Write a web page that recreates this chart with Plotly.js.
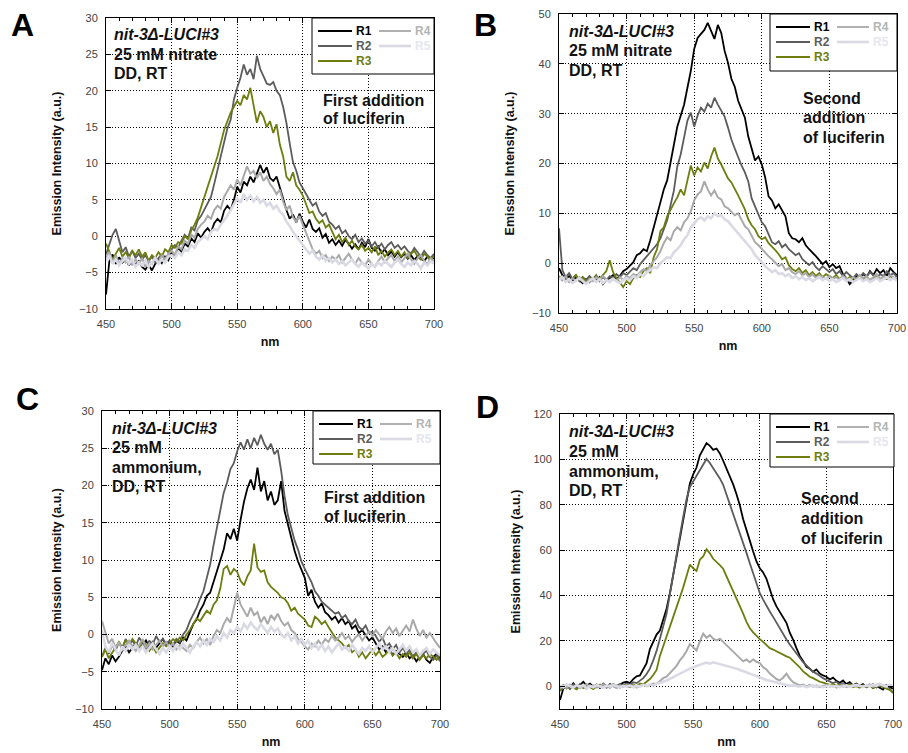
<!DOCTYPE html>
<html>
<head>
<meta charset="utf-8">
<script src="https://cdn.plot.ly/plotly-3.0.1.min.js"></script>
<style>html,body{margin:0;padding:0;background:#fff;}#chart{width:908px;height:753px;}</style>
</head>
<body>
<div id="chart"></div>
<script>
// ---------------- DATA ----------------
const wavelength = [450,452.5,455,457.5,460,462.5,465,467.5,470,472.5,475,477.5,480,482.5,485,487.5,490,492.5,495,497.5,500,502.5,505,507.5,510,512.5,515,517.5,520,522.5,525,527.5,530,532.5,535,537.5,540,542.5,545,547.5,550,552.5,555,557.5,560,562.5,565,567.5,570,572.5,575,577.5,580,582.5,585,587.5,590,592.5,595,597.5,600,602.5,605,607.5,610,612.5,615,617.5,620,622.5,625,627.5,630,632.5,635,637.5,640,642.5,645,647.5,650,652.5,655,657.5,660,662.5,665,667.5,670,672.5,675,677.5,680,682.5,685,687.5,690,692.5,695,697.5,700];

const seriesNames = ['R1','R2','R3','R4','R5'];

// Panel A: 25 mM nitrate, first addition
const a_r1 = [-8,-3.5,-2.5,-3.8,-2.9,-3.6,-3.1,-4.0,-3.3,-3.9,
 -3.4,-4.2,-4.6,-3.9,-4.7,-3.8,-3.2,-3.7,-2.8,-3.3,
 -2.2,-2.8,-1.6,-2.1,-1.0,-1.4,-0.3,-0.8,0.4,-0.2,
 0.6,1.1,0.5,1.8,2.4,1.9,3.5,4.2,3.6,5.0,
 6.8,6.0,7.5,7.0,8.2,7.4,8.6,9.8,8.7,9.5,
 8.0,7.6,8.2,6.8,5.2,3.6,2.4,3.0,1.9,3.1,
 2.0,1.2,2.3,1.0,0.6,1.1,-0.2,0.3,-0.9,-0.4,
 -1.2,-0.6,-1.3,-0.5,-1.0,-1.7,-1.1,-1.8,-0.9,-1.5,
 -0.4,-1.6,-2.0,-1.4,-2.3,-1.8,-2.6,-2.1,-2.8,-2.2,
 -2.9,-2.4,-3.1,-2.6,-3.3,-2.7,-3.0,-3.4,-2.8,-3.2,-3.0];
const a_r2 = [-2.5,-1.0,0.2,1.0,-0.8,-2.2,-1.5,-2.8,-2.0,-3.0,
 -2.4,-3.2,-2.6,-3.4,-2.8,-3.6,-3.0,-2.5,-3.2,-2.4,
 -1.8,-1.2,-1.6,-0.6,0.2,-0.3,1.2,0.8,2.2,2.8,
 3.6,4.6,5.4,7.2,9.0,10.8,12.6,14.8,16.0,18.8,
 20.4,21.8,23.6,22.2,23.0,21.6,24.8,23.0,22.0,21.0,
 20.8,21.2,20.0,19.4,17.8,15.6,12.8,10.2,9.0,7.4,
 6.6,5.8,4.8,4.2,4.6,3.4,2.8,3.2,2.0,1.6,
 1.0,1.4,0.4,0.8,0.0,-0.4,0.2,-0.8,-0.3,-1.0,
 -0.6,-1.4,-0.8,-1.6,-1.0,-1.8,-1.2,-0.8,-1.6,-1.2,
 -1.8,-1.4,-2.0,-2.4,-1.6,-2.2,-2.8,-2.0,-2.6,-3.0,-2.4];
const a_r3 = [-1.0,-2.0,-3.2,-2.4,-1.6,-2.8,-2.2,-3.0,-2.0,-2.6,
 -1.8,-2.8,-2.2,-3.4,-2.6,-3.0,-2.2,-2.8,-1.8,-2.2,
 -1.2,-1.6,-0.8,-1.0,0.0,-0.4,0.8,1.6,2.6,4.0,
 5.4,6.6,8.2,9.4,11.0,12.8,14.6,15.8,17.0,17.8,
 18.6,18.0,19.4,18.8,20.4,18.0,15.6,17.2,16.4,15.0,
 15.8,14.2,15.4,12.6,11.0,8.2,7.6,8.8,7.0,6.4,
 5.6,4.4,3.2,3.4,2.4,1.8,2.2,1.2,1.6,0.6,
 -0.4,0.2,-0.8,-0.2,-1.2,-0.6,-1.4,-1.8,-1.2,-2.0,
 -1.6,-2.2,-1.4,-2.6,-2.0,-2.8,-2.2,-1.8,-2.6,-2.0,
 -2.8,-2.2,-3.0,-2.4,-2.0,-2.8,-3.2,-2.4,-2.8,-3.4,-2.6];
const a_r4 = [-3.0,-2.2,-3.6,-2.6,-3.8,-3.0,-3.6,-2.8,-4.0,-3.2,
 -3.8,-3.0,-4.2,-3.4,-3.8,-2.8,-3.6,-2.6,-3.2,-2.4,
 -2.0,-2.6,-1.4,-1.8,-0.6,-1.0,0.2,-0.2,1.0,1.6,
 2.0,2.8,2.4,3.6,4.2,3.8,5.4,6.2,7.0,6.4,
 7.8,7.0,8.4,9.6,8.6,9.0,8.0,8.8,7.6,8.2,
 7.2,6.6,5.8,6.4,4.8,3.6,4.2,2.6,2.0,2.8,
 1.6,0.4,-0.8,-1.8,-2.4,-2.0,-3.0,-2.6,-3.4,-2.8,
 -3.2,-2.6,-3.6,-3.0,-2.4,-3.2,-3.8,-3.0,-3.6,-4.0,
 -3.2,-3.8,-4.2,-3.4,-2.8,-3.6,-3.0,-2.6,-3.4,-2.8,
 -3.6,-3.0,-2.4,-3.2,-3.8,-3.0,-2.6,-3.4,-3.8,-3.0,-3.4];
const a_r5 = [-3.4,-2.6,-3.8,-3.2,-4.0,-3.4,-3.0,-3.8,-3.2,-4.2,
 -3.6,-4.0,-3.4,-4.2,-3.6,-3.0,-3.8,-3.2,-3.6,-2.8,
 -2.6,-3.0,-2.2,-2.6,-1.8,-2.0,-1.2,-1.6,-0.8,-0.4,
 0.0,-0.4,0.6,1.0,0.8,1.6,2.2,2.8,3.6,4.4,
 5.2,4.6,5.8,5.0,5.6,4.8,5.4,4.6,5.0,4.2,
 4.6,3.8,4.2,3.4,3.0,2.0,1.4,0.6,0.0,-0.6,
 -1.2,-1.8,-2.4,-2.0,-2.8,-3.2,-2.6,-3.4,-3.0,-3.6,
 -3.2,-3.8,-3.4,-4.0,-3.6,-3.2,-3.8,-4.2,-3.6,-4.0,
 -4.4,-3.8,-4.2,-3.6,-4.0,-3.4,-3.8,-4.2,-3.6,-3.2,
 -3.8,-4.2,-3.6,-4.0,-3.4,-3.8,-4.4,-3.6,-4.0,-3.4,-3.8];

// Panel B: 25 mM nitrate, second addition
const b_r1 = [-1.0,-2.4,-3.2,-2.6,-3.6,-2.8,-3.4,-4.0,-3.2,-3.8,
 -3.0,-3.6,-2.8,-4.2,-3.4,-3.0,-2.4,-3.2,-2.6,-1.6,
 -1.2,-0.4,0.2,1.6,2.0,2.8,2.4,4.6,7.0,9.6,
 12.2,14.8,16.6,20.2,23.8,27.4,29.6,31.8,35.2,38.6,
 43.0,45.2,46.0,46.8,48.2,46.6,45.0,47.8,46.2,42.6,
 40.2,37.0,35.4,32.6,30.8,29.2,25.4,22.8,20.6,21.4,
 19.8,17.2,13.4,12.6,11.0,11.8,10.6,9.4,6.0,5.0,
 4.8,4.2,5.0,3.6,2.8,2.2,1.4,0.6,-0.2,0.4,
 -0.8,-0.2,-1.0,-0.6,-2.2,-3.0,-4.2,-3.4,-2.6,-3.0,
 -2.2,-2.8,-1.6,-2.4,-1.2,-2.0,-1.4,-2.6,-1.0,-1.8,-2.4];
const b_r2 = [7.0,-1.4,-2.8,-2.0,-3.2,-2.4,-3.6,-2.8,-3.4,-2.6,
 -3.2,-2.4,-3.6,-2.8,-3.4,-2.6,-3.0,-2.2,-2.8,-2.0,
 -2.4,-1.6,-1.0,-1.4,-0.2,0.6,1.4,2.2,3.0,3.8,
 5.0,6.8,8.6,11.6,14.6,19.4,21.8,25.2,28.6,30.2,
 27.4,29.6,31.2,30.4,32.0,31.2,33.2,31.8,30.6,29.4,
 27.2,24.8,23.0,21.2,19.6,18.2,16.4,13.0,11.4,9.6,
 8.2,7.4,5.6,4.2,3.8,4.4,3.2,3.8,2.8,2.2,
 1.6,2.0,0.8,0.2,-0.4,0.2,-0.8,-1.4,-0.6,-1.2,
 -1.8,-1.2,-2.2,-1.6,-2.6,-1.8,-2.4,-3.0,-2.2,-2.8,
 -2.0,-2.6,-1.8,-2.4,-3.0,-2.2,-2.6,-1.6,-2.4,-2.0,-2.8];
const b_r3 = [-2.6,-3.4,-2.8,-3.6,-3.0,-2.4,-3.4,-2.8,-3.8,-3.0,
 -3.4,-2.6,-3.2,-2.4,-1.6,0.6,-1.8,-3.0,-4.0,-4.8,
 -3.6,-4.2,-3.0,-2.4,-2.8,-1.6,-1.0,-2.0,1.2,2.8,
 6.4,7.2,9.4,10.8,12.0,13.2,14.8,13.6,16.6,19.6,
 17.6,19.2,18.4,20.2,19.0,21.4,23.2,21.0,19.8,18.4,
 17.0,16.2,15.0,13.6,12.2,10.8,8.8,7.6,6.8,5.4,
 4.8,5.2,4.0,3.4,2.6,1.8,0.8,1.2,-0.4,-1.2,
 -1.6,-1.0,-2.0,-1.4,-2.4,-1.8,-2.6,-2.0,-2.8,-2.2,
 -2.6,-3.0,-2.4,-3.2,-2.6,-3.4,-2.8,-3.6,-3.0,-2.6,
 -3.2,-2.8,-3.6,-3.0,-2.4,-3.4,-2.8,-3.2,-2.6,-3.0,-3.4];
const b_r4 = [-2.8,-3.4,-2.6,-3.8,-3.0,-3.6,-2.8,-3.4,-4.0,-3.2,
 -3.6,-2.8,-3.4,-2.6,-3.2,-3.8,-3.0,-3.6,-2.8,-3.4,
 -2.6,-3.0,-2.2,-2.6,-1.8,-1.2,-1.6,-0.4,0.4,1.2,
 2.4,4.0,5.2,4.6,6.4,7.2,6.6,8.2,9.0,10.4,
 12.6,13.8,14.4,16.4,14.8,13.6,14.6,13.2,12.8,11.4,
 11.0,10.2,9.6,10.0,8.8,7.4,6.8,5.4,4.2,3.6,
 2.8,2.2,1.4,0.8,0.2,-0.6,-0.2,-1.4,-1.0,-1.8,
 -2.2,-1.6,-2.4,-2.0,-2.8,-2.2,-3.0,-2.4,-2.8,-3.2,
 -2.6,-3.2,-2.8,-3.4,-2.6,-3.0,-3.6,-2.8,-3.2,-2.4,
 -3.0,-2.6,-3.4,-2.8,-2.2,-3.2,-2.6,-3.0,-2.4,-2.8,-3.2];
const b_r5 = [-3.4,-2.8,-3.8,-3.2,-4.0,-3.4,-3.0,-3.6,-4.2,-3.6,
 -3.0,-3.8,-3.2,-4.0,-3.4,-3.8,-3.2,-3.6,-4.0,-3.4,
 -3.0,-3.4,-2.6,-3.0,-2.2,-2.6,-1.8,-1.4,-0.8,-1.0,
 0.0,0.6,1.2,1.0,2.2,2.8,3.6,4.8,5.6,7.2,
 8.0,8.8,9.2,8.6,9.4,9.0,10.0,9.4,9.6,8.8,
 8.4,7.6,7.0,6.2,5.4,4.6,3.6,2.8,1.6,1.0,
 0.2,-0.6,-1.2,-1.8,-1.4,-2.2,-2.0,-2.6,-2.2,-3.0,
 -2.6,-3.2,-2.8,-3.4,-3.0,-3.6,-3.2,-2.8,-3.4,-3.0,
 -3.6,-3.2,-3.8,-3.4,-3.0,-3.6,-3.2,-3.8,-3.4,-3.0,
 -3.6,-3.2,-3.8,-3.4,-3.0,-3.6,-3.2,-2.8,-3.4,-3.0,-3.6];

// Panel C: 25 mM ammonium, first addition
const c_r1 = [-4.8,-3.2,-4.0,-2.8,-3.6,-3.0,-2.2,-1.6,-2.4,-1.8,
 -1.2,-2.0,-1.4,-0.8,-1.6,-1.0,-1.8,-1.2,-0.6,-1.4,
 -1.0,-1.6,-0.8,-1.2,-0.4,-0.8,0.4,1.4,2.0,3.2,
 4.0,5.2,5.6,7.0,8.4,9.8,11.4,13.6,12.8,14.2,
 12.6,15.4,17.8,19.6,20.8,19.4,22.4,19.2,20.6,18.0,
 19.2,17.4,18.0,20.6,16.6,14.8,12.8,11.2,9.8,8.6,
 7.6,5.2,6.0,4.4,3.6,4.2,3.0,2.6,2.0,2.4,
 1.6,2.2,1.4,1.8,0.8,1.2,0.2,0.6,-0.2,-0.8,
 -0.4,-1.2,-2.0,-1.6,-2.4,-1.8,-2.8,-2.2,-2.6,-3.0,
 -2.4,-3.2,-2.8,-3.6,-3.0,-2.6,-3.4,-3.8,-3.0,-2.6,-3.2];
const c_r2 = [-3.0,-1.8,-2.6,-1.4,-2.2,-1.0,-1.8,-0.6,-1.4,-0.8,
 -1.6,-0.4,-1.2,-2.0,-0.8,-1.4,-0.2,-1.0,-0.6,-1.2,
 -0.8,-1.4,-0.6,-1.0,0.0,0.6,1.8,2.6,3.6,4.8,
 5.8,7.6,9.4,12.0,14.2,16.8,19.0,20.4,22.2,23.0,
 24.6,25.8,24.8,26.2,25.0,26.4,25.4,26.8,25.6,24.8,
 25.6,24.2,24.8,22.0,18.6,16.0,14.2,12.6,11.4,9.8,
 8.8,8.0,7.0,5.8,5.2,4.4,4.0,3.6,3.2,2.8,
 3.0,2.2,2.6,1.8,1.4,2.0,1.0,0.6,1.2,0.2,
 0.4,-0.2,-1.0,-0.4,-1.6,-1.2,-2.0,-1.4,-2.4,-1.8,
 -2.6,-2.0,-3.0,-2.4,-3.2,-2.6,-2.2,-3.0,-3.4,-2.8,-3.6];
const c_r3 = [-3.0,-2.0,-3.2,-2.4,-1.6,-1.0,-1.8,-0.8,-1.4,-0.6,
 -1.2,-1.8,-0.8,-1.4,-2.2,-1.6,-2.4,-1.8,-1.2,-1.6,
 -1.2,-0.6,-1.0,-0.4,-0.8,0.0,0.6,1.4,2.2,1.8,
 2.6,3.2,2.8,4.0,4.6,6.2,8.8,9.2,8.0,8.8,
 8.4,7.2,6.6,7.8,8.6,12.2,9.0,8.4,8.6,7.0,
 6.4,6.0,5.6,5.0,4.8,4.2,3.2,3.6,2.8,2.4,
 2.0,1.2,1.0,2.4,2.0,1.4,1.8,1.0,0.2,-0.4,
 -0.8,-1.2,-1.8,-1.4,-2.4,-2.0,-3.0,-2.4,-3.2,-2.6,
 -2.0,-2.8,-2.2,-3.0,-2.6,-2.0,-2.8,-2.4,-3.2,-2.6,
 -3.0,-2.4,-3.2,-2.6,-3.4,-2.8,-3.2,-2.6,-3.0,-3.4,-2.8];
const c_r4 = [1.8,0.4,-1.2,-0.6,-1.8,-1.0,-2.2,-1.4,-0.8,-1.6,
 -2.2,-1.4,-0.6,-1.8,-1.2,-2.0,-1.4,-0.8,-1.6,-1.0,
 -1.8,-1.2,-2.0,-1.4,-1.8,-2.2,-1.4,-1.8,-1.0,-0.4,
 -1.2,-0.6,-1.4,-0.2,0.6,0.2,1.4,2.2,1.6,3.4,
 5.6,4.0,3.2,2.4,3.6,2.6,3.0,1.6,2.4,1.4,
 2.6,2.0,2.8,1.8,1.2,1.6,0.6,0.2,-0.6,-1.0,
 -1.6,-2.0,-1.2,-1.6,-0.8,-1.4,-0.6,-1.0,-0.2,-0.8,
 -0.4,0.2,-0.6,-0.2,-1.0,-0.4,0.0,-0.8,-0.2,0.4,
 -0.2,0.6,0.0,-0.6,0.4,1.0,0.2,0.8,-0.2,0.6,
 1.2,0.4,2.0,0.8,-0.2,0.6,-0.4,0.2,-0.6,-1.2,-1.8];
const c_r5 = [0.6,-1.6,-2.4,-1.2,-2.0,-2.8,-1.6,-2.2,-1.4,-2.0,
 -1.4,-2.2,-1.6,-2.4,-1.8,-1.2,-2.0,-2.6,-1.8,-2.4,
 -1.6,-2.2,-1.4,-2.0,-1.2,-1.8,-2.4,-1.6,-1.0,-1.6,
 -0.8,-1.4,-0.6,-1.0,-0.2,-0.8,0.2,-0.4,0.6,0.2,
 1.0,0.4,1.4,0.8,1.6,1.0,0.6,1.4,0.8,0.2,
 1.0,0.4,0.8,0.0,-0.4,0.2,-0.8,-0.2,-1.2,-0.6,
 -1.4,-0.8,-1.8,-1.2,-2.0,-1.4,-2.2,-1.6,-2.4,-1.8,
 -1.2,-2.0,-1.6,-2.2,-1.4,-2.0,-2.6,-1.8,-2.2,-1.6,
 -2.4,-1.8,-1.2,-2.0,-1.6,-2.4,-1.8,-2.6,-2.0,-1.4,
 -2.2,-1.6,-2.4,-2.0,-2.8,-2.2,-1.8,-2.6,-2.0,-2.4,-2.8];

// Panel D: 25 mM ammonium, second addition
const d_r1 = [-6.0,-1.0,0.8,-0.6,1.4,-0.4,0.6,2.0,0.2,1.2,
 -0.2,0.8,-0.8,0.4,-0.6,1.0,0.2,-0.4,0.8,1.6,
 2.0,1.4,3.2,4.4,4.8,7.6,10.2,16.4,19.6,22.8,
 24.6,29.4,34.2,41.0,49.2,57.6,65.0,73.8,81.6,89.4,
 93.4,96.4,101.8,104.6,107.2,106.0,104.2,104.8,102.6,99.4,
 96.0,92.6,89.0,84.6,79.8,73.6,69.4,64.2,59.4,55.0,
 52.0,50.2,47.4,42.6,38.4,35.2,32.6,30.4,28.0,23.6,
 20.6,16.8,13.4,11.2,8.6,7.8,6.4,7.4,5.6,4.8,
 4.2,3.0,3.8,2.4,1.6,2.6,1.0,1.8,0.4,1.2,
 0.2,1.0,-0.4,0.6,-0.8,0.2,-0.6,-1.4,0.4,-0.2,-1.0];
const d_r2 = [-2.0,-0.6,0.4,-1.2,0.8,-0.8,1.0,-0.2,-1.0,0.6,
 -0.8,0.4,-0.4,1.2,0.0,-0.6,0.8,0.2,1.0,0.4,
 1.2,0.6,1.8,1.4,2.6,3.6,5.4,7.8,11.4,15.6,
 21.0,26.4,32.0,40.6,49.8,58.8,66.4,74.6,82.4,87.8,
 90.2,93.0,95.4,97.6,100.2,98.4,96.2,94.0,91.6,88.8,
 84.6,80.4,76.2,72.0,67.4,63.0,58.8,54.2,49.6,45.4,
 41.0,38.2,35.4,33.0,30.6,28.0,25.4,22.8,20.6,18.4,
 16.4,14.2,12.4,10.6,9.2,7.8,6.4,5.6,4.4,3.6,
 2.8,2.2,1.4,2.0,0.8,1.4,0.4,1.0,0.2,0.8,
 -0.2,0.6,-0.4,0.2,1.0,-0.6,0.4,-0.2,0.6,-1.0,-3.0];
const d_r3 = [-2.0,0.6,-1.0,0.4,-0.6,-1.4,0.2,-0.8,0.6,-0.4,
 -1.2,0.0,0.8,-0.6,0.4,-0.2,1.0,0.2,-0.6,0.6,
 0.2,-0.4,0.8,0.0,1.2,0.8,2.0,3.2,5.0,7.2,
 13.4,17.6,22.2,26.4,30.8,34.0,39.2,43.6,48.4,53.6,
 52.0,50.8,55.8,57.2,60.4,58.6,56.2,55.0,53.4,51.8,
 48.6,45.0,42.2,38.4,35.8,32.0,28.4,25.6,23.8,22.2,
 20.8,19.6,18.0,16.8,16.2,15.4,14.8,14.0,13.2,12.6,
 11.4,9.8,8.4,6.6,5.4,4.2,3.6,2.8,2.0,1.6,
 1.2,0.6,1.0,0.2,0.8,-0.2,0.4,0.8,-0.4,0.2,
 -0.6,0.4,-0.2,0.6,-0.8,0.0,0.4,-0.4,-1.0,-1.6,-2.6];
const d_r4 = [-1.0,0.4,-0.6,0.8,-0.2,0.6,-0.8,0.2,1.0,-0.4,
 0.4,-0.6,0.2,0.8,-0.4,0.6,0.0,-0.8,0.4,-0.2,
 0.6,-0.2,0.4,-0.6,0.2,0.8,0.0,0.6,1.2,1.0,
 2.2,3.6,4.2,5.8,7.6,9.0,11.4,13.2,15.6,18.6,
 17.2,15.8,19.8,23.2,21.4,22.6,21.0,20.2,21.0,19.6,
 18.2,16.4,15.0,13.6,12.2,11.0,11.8,10.6,11.8,10.8,
 10.2,8.4,7.4,5.6,4.4,3.2,2.6,3.8,5.6,3.4,
 1.8,1.0,0.4,0.8,0.0,0.6,-0.2,0.4,-0.4,0.2,
 0.6,-0.2,0.4,-0.6,0.2,0.8,-0.4,0.2,0.6,-0.2,
 0.4,-0.4,0.2,0.8,-0.2,0.4,1.2,0.2,-0.4,0.6,0.0];
const d_r5 = [0.4,-0.4,0.8,0.0,-0.6,0.6,-0.2,0.4,-0.8,0.2,
 -0.4,0.6,0.0,-0.6,0.4,-0.2,0.6,0.0,-0.4,0.2,
 -0.2,0.4,-0.4,0.2,0.0,0.6,0.2,0.8,0.4,1.0,
 1.4,2.0,2.6,3.2,4.0,4.8,5.6,6.4,7.2,7.8,
 8.4,9.0,9.6,10.0,10.4,10.0,10.6,10.2,9.8,9.6,
 9.2,8.8,8.2,7.8,7.2,6.8,6.2,5.6,5.0,4.6,
 4.0,3.4,2.8,2.4,2.0,1.6,1.2,0.8,0.6,0.2,
 0.4,0.0,-0.2,0.2,-0.4,0.0,0.4,-0.2,0.2,-0.4,
 0.0,0.4,-0.2,0.2,-0.4,0.0,0.4,-0.2,0.2,0.6,
 0.2,-0.2,0.4,0.0,0.6,0.2,1.0,0.4,0.0,0.6,0.2];

// ---------------- STYLE ----------------
const FONT = 'Liberation Sans, Arial, Helvetica, sans-serif';
const seriesColors = ['#000000', '#5c5c5c', '#6f7d0e', '#a9a9a9', '#dadae4'];
const labelColors  = ['#000000', '#5c5c5c', '#6f7d0e', '#b4b4b4', '#e6e6ee'];
const seriesWidths = [1.8, 1.8, 1.8, 2.0, 2.6];

const X = p => p / 908;
const Y = p => 1 - p / 753;

const panels = [
  {data: [a_r1, a_r2, a_r3, a_r4, a_r5], box: [106, 434, 18, 309], yrange: [-10, 30], ydtick: 5, ytick0: -10, ystand: 14,
   letter: 'A', letterPos: [22.5, 25], legend: [312, 18, 434, 74],
   info: {x: 112, y: [35, 54, 73], lines: ['<b><i>nit-3Δ-LUCI#3</i></b>', '<b>25 mM nitrate</b>', '<b>DD, RT</b>']},
   note: {x: 321, y: [100, 119], lines: ['<b>First addition</b>', '<b>of luciferin</b>']}},
  {data: [b_r1, b_r2, b_r3, b_r4, b_r5], box: [559, 897, 14, 313], yrange: [-10, 50], ydtick: 10, ytick0: -10, ystand: 14,
   letter: 'B', letterPos: [485, 25.5], legend: [770, 14, 897, 71],
   info: {x: 567, y: [32, 50.5, 70], lines: ['<b><i>nit-3Δ-LUCI#3</i></b>', '<b>25 mM nitrate</b>', '<b>DD, RT</b>']},
   note: {x: 801, y: [98, 118, 137], lines: ['<b>Second</b>', '<b>addition</b>', '<b>of luciferin</b>']}},
  {data: [c_r1, c_r2, c_r3, c_r4, c_r5], box: [102, 440, 411, 709], yrange: [-10, 30], ydtick: 5, ytick0: -10, ystand: 10,
   letter: 'C', letterPos: [27, 398.5], legend: [313, 411, 440, 464],
   info: {x: 110, y: [428, 447.5, 467, 486], lines: ['<b><i>nit-3Δ-LUCI#3</i></b>', '<b>25 mM</b>', '<b>ammonium,</b>', '<b>DD, RT</b>']},
   note: {x: 322, y: [497, 516], lines: ['<b>First addition</b>', '<b>of luciferin</b>']}},
  {data: [d_r1, d_r2, d_r3, d_r4, d_r5], box: [560, 893, 414, 709], yrange: [-10, 120], ydtick: 20, ytick0: 0, ystand: 10,
   letter: 'D', letterPos: [487, 407], legend: [770, 414, 894, 467],
   info: {x: 567, y: [431, 451, 471, 490], lines: ['<b><i>nit-3Δ-LUCI#3</i></b>', '<b>25 mM</b>', '<b>ammonium,</b>', '<b>DD, RT</b>']},
   note: {x: 799, y: [498, 518, 538], lines: ['<b>Second</b>', '<b>addition</b>', '<b>of luciferin</b>']}}
];

const traces = [];
const shapes = [];
const annotations = [];
const layout = {
  width: 908, height: 753,
  margin: {l: 0, r: 0, t: 0, b: 0},
  paper_bgcolor: '#ffffff', plot_bgcolor: '#ffffff',
  font: {family: FONT, color: '#000'},
  showlegend: false,
  shapes: shapes, annotations: annotations
};

panels.forEach((p, k) => {
  const ax = k === 0 ? '' : String(k + 1);
  p.data.forEach((ys, j) => {
    traces.push({
      type: 'scatter', mode: 'lines', x: wavelength, y: ys,
      xaxis: 'x' + ax, yaxis: 'y' + ax, name: seriesNames[j],
      line: {color: seriesColors[j], width: seriesWidths[j]},
      showlegend: false, hoverinfo: 'skip'
    });
  });
  const common = {
    showline: true, linecolor: '#000', linewidth: 1, mirror: 'allticks',
    ticks: 'inside', ticklen: 5, tickcolor: '#000', tickwidth: 1,
    showgrid: true, gridcolor: '#000', griddash: '1px,2px', gridwidth: 1,
    zeroline: false, fixedrange: true,
    tickfont: {family: FONT, size: 11, color: '#444'},
    ticklabelstandoff: 5
  };
  layout['xaxis' + ax] = Object.assign({}, common, {
    domain: [X(p.box[0]), X(p.box[1])], anchor: 'y' + ax,
    range: [450, 700], tick0: 450, dtick: 50,
    minor: {ticks: 'inside', ticklen: 3, dtick: 10, tick0: 450, tickcolor: '#000', showgrid: false},
    title: {text: '<b>nm</b>', font: {family: FONT, size: 12.5, color: '#111'}, standoff: 8}
  });
  layout['yaxis' + ax] = Object.assign({}, common, {
    domain: [Y(p.box[3]), Y(p.box[2])], anchor: 'x' + ax,
    range: p.yrange, tick0: p.ytick0, dtick: p.ydtick,
    title: {text: '<b>Emission Intensity (a.u.)</b>', font: {family: FONT, size: 12.5, color: '#111'}, standoff: p.ystand}
  });

  // panel letter
  annotations.push({xref: 'paper', yref: 'paper', x: X(p.letterPos[0]), y: Y(p.letterPos[1]),
    xanchor: 'center', yanchor: 'middle', showarrow: false,
    text: '<b>' + p.letter + '</b>', font: {family: FONT, size: 32, color: '#000'}});
  // info text
  p.info.lines.forEach((t, i) => annotations.push({xref: 'paper', yref: 'paper',
    x: X(p.info.x), y: Y(p.info.y[i]), xanchor: 'left', yanchor: 'middle', showarrow: false,
    text: t, font: {family: FONT, size: 16, color: '#111'}}));
  p.note.lines.forEach((t, i) => annotations.push({xref: 'paper', yref: 'paper',
    x: X(p.note.x), y: Y(p.note.y[i]), xanchor: 'left', yanchor: 'middle', showarrow: false,
    text: t, font: {family: FONT, size: 16, color: '#111'}}));

  // legend box
  const [l, t, r, b] = p.legend;
  shapes.push({type: 'rect', xref: 'paper', yref: 'paper', x0: X(l), x1: X(r), y0: Y(b), y1: Y(t),
    line: {color: '#000', width: 1}, fillcolor: '#ffffff', layer: 'above'});
  const slots = [[0, 0], [0, 1], [0, 2], [1, 0], [1, 1]]; // [column,row] for R1..R5
  slots.forEach(([c, rr], j) => {
    const lx0 = c === 0 ? l + 6 : l + 67;
    const lx1 = c === 0 ? l + 40 : l + 99;
    const ty = t + 13 + rr * 15;
    shapes.push({type: 'line', xref: 'paper', yref: 'paper', x0: X(lx0), x1: X(lx1), y0: Y(ty), y1: Y(ty),
      line: {color: seriesColors[j], width: j === 4 ? 2.6 : 1.8}, layer: 'above'});
    annotations.push({xref: 'paper', yref: 'paper', x: X(lx1 + 2), y: Y(ty), xanchor: 'left', yanchor: 'middle',
      showarrow: false, text: '<b>' + seriesNames[j] + '</b>',
      font: {family: FONT, size: 12, color: labelColors[j]}});
  });
});

Plotly.newPlot('chart', traces, layout, {displayModeBar: false, staticPlot: true});
</script>
</body>
</html>
